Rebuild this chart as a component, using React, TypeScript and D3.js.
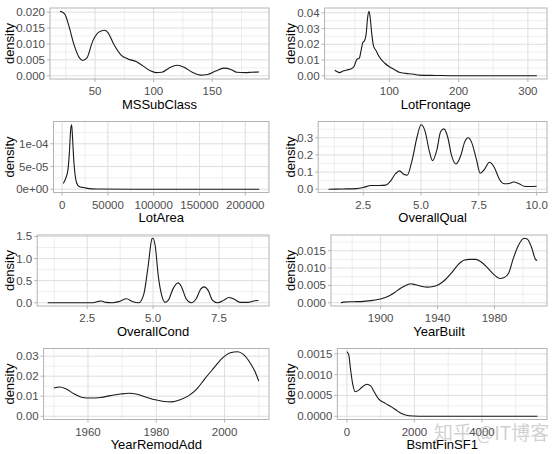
import React, { useMemo } from "react";
import * as d3 from "d3";

// ---------- data ----------
const panelTitles = ["MSSubClass", "LotFrontage", "LotArea", "OverallQual", "OverallCond", "YearBuilt", "YearRemodAdd", "BsmtFinSF1"];

const msSubClassX = [20, 24, 28, 32, 36.5, 39.5, 43, 48, 53.5, 58, 61, 66, 72, 78, 85, 90.5, 97.5, 102, 107, 113, 120, 126, 133, 140, 146, 153, 160, 166, 171, 178, 184, 190];
const msSubClassY = [0.0203, 0.0195, 0.0152, 0.0098, 0.0057, 0.0048, 0.0056, 0.0109, 0.0138, 0.0143, 0.0136, 0.0099, 0.0066, 0.0053, 0.0045, 0.0032, 0.0015, 0.001, 0.0011, 0.0024, 0.0033, 0.0027, 0.0011, 0.0002, 0.0004, 0.0015, 0.0024, 0.002, 0.0011, 0.001, 0.0011, 0.0012];

const lotFrontageX = [21, 24, 28, 33, 38.5, 45, 49.5, 53, 56.5, 59, 61.5, 64, 66.5, 68.5, 70.5, 72, 74.5, 77, 81, 85.5, 93, 100, 107, 114, 124, 133.5, 143, 167, 200, 313];
const lotFrontageY = [0.0035, 0.0027, 0.002, 0.003, 0.0037, 0.0044, 0.0064, 0.0105, 0.0112, 0.0158, 0.021, 0.0222, 0.0268, 0.0367, 0.041, 0.0378, 0.0268, 0.019, 0.0158, 0.0119, 0.0081, 0.0057, 0.004, 0.0022, 0.0015, 0.0011, 0.0004, 0.0002, 0, 0];

const lotAreaX = [1300, 4300, 6500, 7900, 9400, 10450, 11500, 13000, 14800, 17000, 19800, 23400, 27700, 37800, 77500, 215245];
const lotAreaY = [1.28e-5, 2.6e-5, 4.5e-5, 7.9e-5, 1.32e-4, 1.42e-4, 1.09e-4, 5.6e-5, 2.3e-5, 9e-6, 5e-6, 3.8e-6, 2e-6, 6e-7, 0, 0];

const overallQualX = [1, 1.6, 2.2, 2.5, 2.83, 3.18, 3.47, 3.68, 3.9, 4.07, 4.25, 4.4, 4.61, 4.83, 5.0, 5.18, 5.35, 5.5, 5.68, 5.85, 5.99, 6.15, 6.32, 6.51, 6.72, 6.89, 7.04, 7.18, 7.39, 7.56, 7.75, 7.96, 8.17, 8.39, 8.6, 8.82, 9.0, 9.25, 9.46, 9.67, 10];
const overallQualY = [0, 0.002, 0.004, 0.01, 0.022, 0.022, 0.024, 0.048, 0.091, 0.107, 0.087, 0.082, 0.167, 0.306, 0.376, 0.336, 0.227, 0.167, 0.227, 0.336, 0.352, 0.306, 0.197, 0.147, 0.197, 0.276, 0.3, 0.276, 0.177, 0.093, 0.117, 0.157, 0.127, 0.058, 0.032, 0.034, 0.042, 0.032, 0.018, 0.016, 0.018];

const overallCondX = [1, 2.72, 2.91, 3.03, 3.2, 3.47, 3.72, 3.99, 4.21, 4.46, 4.65, 4.81, 4.96, 5.0, 5.08, 5.2, 5.33, 5.45, 5.58, 5.76, 5.95, 6.07, 6.26, 6.45, 6.63, 6.82, 6.94, 7.09, 7.25, 7.44, 7.69, 7.87, 8.06, 8.31, 8.62, 8.86, 9];
const overallCondY = [0, 0, 0.03, 0.04, 0.01, 0, 0.03, 0.09, 0.03, 0, 0.2, 0.82, 1.45, 1.46, 1.29, 0.59, 0.16, 0.01, 0.06, 0.32, 0.45, 0.37, 0.085, 0, 0.085, 0.32, 0.36, 0.28, 0.06, 0, 0.06, 0.12, 0.085, 0.01, 0.01, 0.045, 0.05];

const yearBuiltX = [1872, 1874, 1881, 1888, 1894.7, 1900, 1905, 1909.6, 1914, 1918.8, 1921, 1924.5, 1929, 1932.6, 1937, 1940.6, 1945, 1949.8, 1954, 1959, 1962.4, 1967, 1970.4, 1975, 1979.6, 1984, 1986.5, 1990, 1993, 1996.8, 2000.7, 2003, 2006, 2009, 2010];
const yearBuiltY = [0, 0.0002, 0.0003, 0.0004, 0.0007, 0.0011, 0.0018, 0.0029, 0.0042, 0.0052, 0.0055, 0.0052, 0.0047, 0.0045, 0.0047, 0.0052, 0.0065, 0.0086, 0.0108, 0.0123, 0.0125, 0.0125, 0.0118, 0.0101, 0.0081, 0.007, 0.0072, 0.0086, 0.0125, 0.0165, 0.0186, 0.0184, 0.016, 0.0124, 0.0122];

const yearRemodAddX = [1950, 1951.8, 1953.5, 1956, 1958.3, 1960.8, 1963.7, 1966.6, 1969.5, 1972, 1974.4, 1977.3, 1979.7, 1982.2, 1984.6, 1987, 1989.5, 1991.9, 1994.3, 1996.8, 1999.2, 2001.7, 2003.8, 2005.5, 2007.5, 2008.9, 2010];
const yearRemodAddY = [0.0141, 0.0146, 0.0137, 0.0111, 0.0094, 0.0091, 0.0094, 0.0103, 0.0111, 0.0115, 0.011, 0.0094, 0.0082, 0.0074, 0.0072, 0.0082, 0.0103, 0.0137, 0.0189, 0.024, 0.0288, 0.0317, 0.0322, 0.0309, 0.0266, 0.0223, 0.0175];

const bsmtFinSF1X = [0, 58, 106, 173, 241, 318, 462, 588, 703, 819, 944, 1137, 1330, 1474, 1618, 1763, 1956, 2341, 5644];
const bsmtFinSF1Y = [0.00155, 0.00146, 0.00114, 0.00077, 0.00059, 0.00061, 0.00071, 0.00077, 0.00073, 0.00057, 0.00041, 0.00031, 0.00022, 0.00014, 0.000065, 0.000024, 0.000008, 0, 0];

const xTickValues = [
  [50, 100, 150],
  [100, 200, 300],
  [0, 50000, 100000, 150000, 200000],
  [2.5, 5.0, 7.5, 10.0],
  [2.5, 5.0, 7.5],
  [1900, 1940, 1980],
  [1960, 1980, 2000],
  [0, 2000, 4000],
];
const xTickLabels = [
  ["50", "100", "150"],
  ["100", "200", "300"],
  ["0", "50000", "100000", "150000", "200000"],
  ["2.5", "5.0", "7.5", "10.0"],
  ["2.5", "5.0", "7.5"],
  ["1900", "1940", "1980"],
  ["1960", "1980", "2000"],
  ["0", "2000", "4000"],
];
const yTickValues = [
  [0, 0.005, 0.01, 0.015, 0.02],
  [0, 0.01, 0.02, 0.03, 0.04],
  [0, 5e-5, 1e-4],
  [0, 0.1, 0.2, 0.3],
  [0, 0.5, 1.0, 1.5],
  [0, 0.005, 0.01, 0.015],
  [0, 0.01, 0.02, 0.03],
  [0, 0.0005, 0.001, 0.0015],
];
const yTickLabels = [
  ["0.000", "0.005", "0.010", "0.015", "0.020"],
  ["0.00", "0.01", "0.02", "0.03", "0.04"],
  ["0e+00", "5e-05", "1e-04"],
  ["0.0", "0.1", "0.2", "0.3"],
  ["0.0", "0.5", "1.0", "1.5"],
  ["0.000", "0.005", "0.010", "0.015"],
  ["0.00", "0.01", "0.02", "0.03"],
  ["0.0000", "0.0005", "0.0010", "0.0015"],
];
const seriesX = [msSubClassX, lotFrontageX, lotAreaX, overallQualX, overallCondX, yearBuiltX, yearRemodAddX, bsmtFinSF1X];
const seriesY = [msSubClassY, lotFrontageY, lotAreaY, overallQualY, overallCondY, yearBuiltY, yearRemodAddY, bsmtFinSF1Y];
const yTitle = "density";
const watermark = "知乎 @IT博客";

// ---------- layout / style ----------
const W = 554;
const H = 454;
const colX = [0, 281];
const colRight = [269, 547];
const rowH = 113.5;
const panelTop = 8;
const panelBottom = 79;
const tickFont = 11.5;
const titleFont = 13;
const fontFamily = "'Liberation Sans', Arial, sans-serif";
const gridColor = "#DEDEDE";
const borderColor = "#B3B3B3";
const tickTextColor = "#4D4D4D";

function measure(text: string, size: number): number {
  if (typeof document === "undefined") return text.length * size * 0.556;
  const c = document.createElement("canvas");
  const ctx = c.getContext("2d");
  if (!ctx) return text.length * size * 0.556;
  ctx.font = `${size}px 'Liberation Sans', Arial, sans-serif`;
  return ctx.measureText(text).width;
}

function minorBreaks(major: number[], domain: [number, number]): number[] {
  if (major.length < 2) return [];
  const step = major[1] - major[0];
  const out: number[] = [];
  const ext = [major[0] - step, ...major, major[major.length - 1] + step];
  for (let i = 0; i < ext.length - 1; i++) {
    const m = (ext[i] + ext[i + 1]) / 2;
    if (m >= domain[0] && m <= domain[1]) out.push(m);
  }
  return out;
}

function Panel({ i }: { i: number }) {
  const col = i % 2;
  const row = Math.floor(i / 2);
  const cx = colX[col];
  const cy = row * rowH;
  const xs = seriesX[i];
  const ys = seriesY[i];
  const labelW = d3.max(yTickLabels[i], (t) => measure(t, tickFont)) || 0;
  const left = cx + 16.2 + labelW + 5;
  const right = colRight[col];
  const top = cy + panelTop;
  const bottom = cy + panelBottom;

  const xMin = d3.min(xs)!;
  const xMax = d3.max(xs)!;
  const yMax = d3.max(ys)!;
  const xPad = (xMax - xMin) * 0.05;
  const xDom: [number, number] = [xMin - xPad, xMax + xPad];
  const yDom: [number, number] = [-0.05 * yMax, 1.05 * yMax];
  const x = d3.scaleLinear().domain(xDom).range([left, right]);
  const y = d3.scaleLinear().domain(yDom).range([bottom, top]);

  const pts: [number, number][] = xs.map((v, k) => [v, ys[k]]);
  const line = d3
    .line<[number, number]>()
    .x((d) => x(d[0]))
    .y((d) => y(d[1]))
    .curve(d3.curveMonotoneX);

  const xMinor = minorBreaks(xTickValues[i], xDom);
  const yMinor = minorBreaks(yTickValues[i], yDom);

  return (
    <g>
      <rect x={left} y={top} width={right - left} height={bottom - top} fill="#fff" />
      {xMinor.map((v, k) => (
        <line key={"xm" + k} x1={x(v)} x2={x(v)} y1={top} y2={bottom} stroke={gridColor} strokeWidth={0.5} />
      ))}
      {yMinor.map((v, k) => (
        <line key={"ym" + k} x1={left} x2={right} y1={y(v)} y2={y(v)} stroke={gridColor} strokeWidth={0.5} />
      ))}
      {xTickValues[i].map((v, k) => (
        <line key={"xM" + k} x1={x(v)} x2={x(v)} y1={top} y2={bottom} stroke={gridColor} strokeWidth={1} />
      ))}
      {yTickValues[i].map((v, k) => (
        <line key={"yM" + k} x1={left} x2={right} y1={y(v)} y2={y(v)} stroke={gridColor} strokeWidth={1} />
      ))}
      <path d={line(pts) || ""} fill="none" stroke="#1a1a1a" strokeWidth={1.1} strokeLinejoin="round" />
      <rect x={left} y={top} width={right - left} height={bottom - top} fill="none" stroke={borderColor} strokeWidth={1} />
      {xTickValues[i].map((v, k) => (
        <g key={"xt" + k}>
          <line x1={x(v)} x2={x(v)} y1={bottom} y2={bottom + 3} stroke={borderColor} strokeWidth={1} />
          <text x={x(v)} y={bottom + 12} textAnchor="middle" dominantBaseline="central" fontSize={tickFont} fill={tickTextColor} fontFamily={fontFamily}>
            {xTickLabels[i][k]}
          </text>
        </g>
      ))}
      {yTickValues[i].map((v, k) => (
        <g key={"yt" + k}>
          <line x1={left - 3} x2={left} y1={y(v)} y2={y(v)} stroke={borderColor} strokeWidth={1} />
          <text x={left - 5} y={y(v)} textAnchor="end" dominantBaseline="central" fontSize={tickFont} fill={tickTextColor} fontFamily={fontFamily}>
            {yTickLabels[i][k]}
          </text>
        </g>
      ))}
      <text x={(left + right) / 2} y={cy + 104} textAnchor="middle" dominantBaseline="central" fontSize={titleFont} fill="#000" fontFamily={fontFamily}>
        {panelTitles[i]}
      </text>
      <text
        transform={`translate(${cx + 9.5},${(top + bottom) / 2}) rotate(-90)`}
        textAnchor="middle"
        dominantBaseline="central"
        fontSize={titleFont}
        fill="#000"
        fontFamily={fontFamily}
      >
        {yTitle}
      </text>
    </g>
  );
}

export default function App() {
  const ids = useMemo(() => d3.range(panelTitles.length), []);
  return (
    <svg width={W} height={H} style={{ position: "absolute", left: 0, top: 0, background: "#fff" }}>
      <rect x={0} y={0} width={W} height={H} fill="#fff" />
      {ids.map((i) => (
        <Panel key={i} i={i} />
      ))}
      <text x={434} y={431} fontSize={19} fill="rgba(150,150,150,0.45)" fontFamily="'Noto Sans CJK SC', sans-serif" dominantBaseline="central">
        {watermark}
      </text>
    </svg>
  );
}
